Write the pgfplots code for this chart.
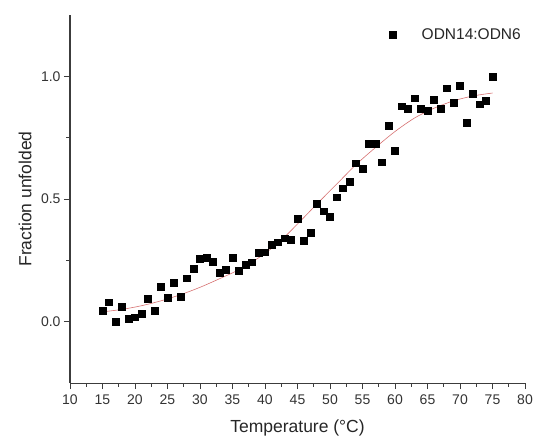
\documentclass[border=0pt]{standalone}
\usepackage{pgfplots}
\pgfplotsset{compat=1.18}
\usepackage{fontspec}
\setmainfont{Liberation Sans}
\definecolor{fitred}{RGB}{214,112,112}
\definecolor{axgray}{RGB}{60,60,60}
\begin{document}
\begin{tikzpicture}
\begin{axis}[
  scale only axis,
  width=455pt, height=368pt,
  xmin=10, xmax=80, ymin=-0.25, ymax=1.25,
  axis x line*=bottom, axis y line*=left,
  axis line style={axgray, line width=1pt},
  tick style={axgray, line width=0.8pt},
  tick align=outside,
  major tick length=6pt, minor tick length=3.5pt,
  xtick={10,15,...,80}, minor x tick num=1,
  ytick={0,0.5,1.0}, minor y tick num=1,
  /pgf/number format/assume math mode=true,
  yticklabel style={/pgf/number format/fixed, /pgf/number format/fixed zerofill, /pgf/number format/precision=1},
  xticklabel style={/pgf/number format/fixed, yshift=-2pt},
  tick label style={font=\fontsize{14}{16}\selectfont, text=black!80},
  every axis x label/.style={at={(axis description cs:0.5,0)}, anchor=center, yshift=-45pt},
  every axis y label/.style={at={(axis description cs:0,0.5)}, xshift=-45pt, anchor=center, rotate=90},
  label style={font=\fontsize{17.5}{20}\selectfont, text=black!85},
  xlabel={Temperature (°C)},
  ylabel={Fraction unfolded},
  legend style={at={(1,1)}, anchor=north east, draw=none, fill=none, xshift=1pt, yshift=-9pt,
    font=\fontsize{15.5}{18}\selectfont, text=black!85, column sep=24pt},
  legend cell align=left,
  clip=false,
]
\addplot[only marks, mark=square*, mark size=3.4pt, black] coordinates {
(15,0.045) (16,0.079) (17,0.000) (18,0.061) (19,0.011) (20,0.018)
(21,0.034) (22,0.093) (23,0.045) (24,0.144) (25,0.099) (26,0.158)
(27,0.103) (28,0.177) (29,0.215) (30,0.256) (31,0.262) (32,0.246)
(33,0.199) (34,0.211) (35,0.260) (36,0.208) (37,0.233) (38,0.242)
(39,0.280) (40,0.283) (41,0.313) (42,0.324) (43,0.340) (44,0.333)
(45,0.419) (46,0.331) (47,0.362) (48,0.480) (49,0.450) (50,0.429)
(51,0.507) (52,0.544) (53,0.569) (54,0.646) (55,0.623) (56,0.725)
(57,0.725) (58,0.650) (59,0.800) (60,0.698) (61,0.878) (62,0.868)
(63,0.911) (64,0.868) (65,0.861) (66,0.905) (67,0.868) (68,0.952)
(69,0.893) (70,0.963) (71,0.812) (72,0.929) (73,0.886) (74,0.902)
(75,1.000)
};
\addlegendentry{ODN14:ODN6}
\addplot[fitred, line width=0.6pt, smooth, no marks, forget plot] coordinates {
(15,0.040) (18,0.050) (21,0.065) (24,0.085) (27,0.110) (30,0.140)
(33,0.175) (36,0.212) (39,0.260) (42,0.320) (45,0.398) (48,0.480)
(51,0.560) (54,0.640) (57,0.710) (60,0.775) (63,0.830) (66,0.870)
(69,0.900) (72,0.920) (75,0.932)
};
\end{axis}
\pgfresetboundingbox
\path ([xshift=-70pt,yshift=-55pt]current axis.south west) rectangle ([xshift=12pt,yshift=15pt]current axis.north east);
\end{tikzpicture}
\end{document}
